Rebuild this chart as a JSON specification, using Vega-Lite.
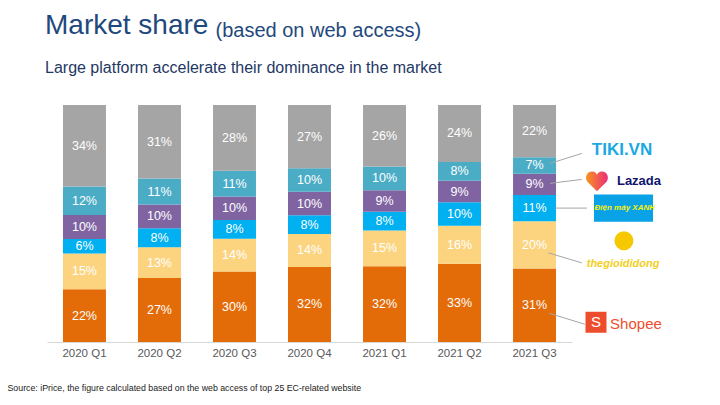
{
  "$schema": "https://vega.github.io/schema/vega-lite/v6.json",
  "autosize": "none",
  "width": 525,
  "height": 237,
  "padding": {"left": 47, "top": 105, "right": 148, "bottom": 63},
  "background": "white",
  "config": {"view": {"stroke": null}, "font": "Liberation Sans"},
  "title": {
    "text": "Market share",
    "subtitle": "Large platform accelerate their dominance in the market",
    "anchor": "start",
    "frame": "group",
    "font": "Liberation Sans",
    "fontSize": 28,
    "fontWeight": "normal",
    "color": "#1F497D",
    "subtitleFont": "Liberation Sans",
    "subtitleFontSize": 16,
    "subtitleColor": "#1F3864",
    "subtitlePadding": 20,
    "offset": -56,
    "dx": -2
  },
  "data": {
    "values": [
      {"quarter": "2020 Q1", "brand": "Shopee", "share": 22},
      {"quarter": "2020 Q1", "brand": "thegioididong", "share": 15},
      {"quarter": "2020 Q1", "brand": "Điện máy XANH", "share": 6},
      {"quarter": "2020 Q1", "brand": "Lazada", "share": 10},
      {"quarter": "2020 Q1", "brand": "TIKI.VN", "share": 12},
      {"quarter": "2020 Q1", "brand": "Others", "share": 34},
      {"quarter": "2020 Q2", "brand": "Shopee", "share": 27},
      {"quarter": "2020 Q2", "brand": "thegioididong", "share": 13},
      {"quarter": "2020 Q2", "brand": "Điện máy XANH", "share": 8},
      {"quarter": "2020 Q2", "brand": "Lazada", "share": 10},
      {"quarter": "2020 Q2", "brand": "TIKI.VN", "share": 11},
      {"quarter": "2020 Q2", "brand": "Others", "share": 31},
      {"quarter": "2020 Q3", "brand": "Shopee", "share": 30},
      {"quarter": "2020 Q3", "brand": "thegioididong", "share": 14},
      {"quarter": "2020 Q3", "brand": "Điện máy XANH", "share": 8},
      {"quarter": "2020 Q3", "brand": "Lazada", "share": 10},
      {"quarter": "2020 Q3", "brand": "TIKI.VN", "share": 11},
      {"quarter": "2020 Q3", "brand": "Others", "share": 28},
      {"quarter": "2020 Q4", "brand": "Shopee", "share": 32},
      {"quarter": "2020 Q4", "brand": "thegioididong", "share": 14},
      {"quarter": "2020 Q4", "brand": "Điện máy XANH", "share": 8},
      {"quarter": "2020 Q4", "brand": "Lazada", "share": 10},
      {"quarter": "2020 Q4", "brand": "TIKI.VN", "share": 10},
      {"quarter": "2020 Q4", "brand": "Others", "share": 27},
      {"quarter": "2021 Q1", "brand": "Shopee", "share": 32},
      {"quarter": "2021 Q1", "brand": "thegioididong", "share": 15},
      {"quarter": "2021 Q1", "brand": "Điện máy XANH", "share": 8},
      {"quarter": "2021 Q1", "brand": "Lazada", "share": 9},
      {"quarter": "2021 Q1", "brand": "TIKI.VN", "share": 10},
      {"quarter": "2021 Q1", "brand": "Others", "share": 26},
      {"quarter": "2021 Q2", "brand": "Shopee", "share": 33},
      {"quarter": "2021 Q2", "brand": "thegioididong", "share": 16},
      {"quarter": "2021 Q2", "brand": "Điện máy XANH", "share": 10},
      {"quarter": "2021 Q2", "brand": "Lazada", "share": 9},
      {"quarter": "2021 Q2", "brand": "TIKI.VN", "share": 8},
      {"quarter": "2021 Q2", "brand": "Others", "share": 24},
      {"quarter": "2021 Q3", "brand": "Shopee", "share": 31},
      {"quarter": "2021 Q3", "brand": "thegioididong", "share": 20},
      {"quarter": "2021 Q3", "brand": "Điện máy XANH", "share": 11},
      {"quarter": "2021 Q3", "brand": "Lazada", "share": 9},
      {"quarter": "2021 Q3", "brand": "TIKI.VN", "share": 7},
      {"quarter": "2021 Q3", "brand": "Others", "share": 22}
    ]
  },
  "transform": [
    {"calculate": "indexof(['Shopee','thegioididong','Điện máy XANH','Lazada','TIKI.VN','Others'], datum.brand)", "as": "rank"},
    {"stack": "share", "groupby": ["quarter"], "sort": [{"field": "rank", "order": "ascending"}], "as": ["y0", "y1"], "offset": "normalize"},
    {"calculate": "(datum.y0 + datum.y1) / 2", "as": "mid"},
    {"calculate": "datum.share + '%'", "as": "label"}
  ],
  "layer": [
    {
      "mark": {"type": "bar"},
      "encoding": {
        "x": {
          "field": "quarter", "type": "ordinal",
          "scale": {"paddingInner": 0.427, "paddingOuter": 0.213},
          "axis": {
            "title": "Source: iPrice, the figure calculated based on the web access of top 25 EC-related website",
            "labelAngle": 0, "labelFontSize": 11.5, "labelColor": "#595959", "labelFont": "Liberation Sans",
            "labelPadding": 5, "ticks": false, "domainColor": "#D9D9D9",
            "titleX": -40, "titleY": 48, "titleAlign": "left", "titleAnchor": "start", "titleBaseline": "alphabetic",
            "titleFontSize": 8.8, "titleFontWeight": "normal", "titleColor": "#1A1A1A", "titleFont": "Liberation Sans"
          }
        },
        "y": {
          "field": "y0", "type": "quantitative",
          "scale": {"domain": [0, 1], "nice": false},
          "axis": {
            "title": "(based on web access)", "labels": false, "ticks": false, "domain": false, "grid": false,
            "titleAngle": 0, "titleAlign": "left", "titleBaseline": "alphabetic", "titleX": 168, "titleY": -69,
            "titleFontSize": 20, "titleFontWeight": "normal", "titleColor": "#1F497D", "titleFont": "Liberation Sans"
          }
        },
        "y2": {"field": "y1"},
        "color": {
          "field": "brand", "type": "nominal",
          "scale": {
            "domain": ["Shopee", "thegioididong", "Điện máy XANH", "Lazada", "TIKI.VN", "Others"],
            "range": ["#E36C09", "#FCD480", "#00B0F0", "#8064A2", "#4BACC6", "#A5A5A5"]
          },
          "legend": null
        }
      }
    },
    {
      "mark": {"type": "text", "color": "white", "fontSize": 12.5, "font": "Liberation Sans"},
      "encoding": {
        "x": {"field": "quarter", "type": "ordinal"},
        "y": {"field": "mid", "type": "quantitative"},
        "text": {"field": "label"}
      }
    },
    {
      "transform": [{"filter": "datum.quarter == '2021 Q3' && datum.brand == 'TIKI.VN'"}],
      "mark": {"type": "rule", "color": "#A6A6A6", "strokeWidth": 1, "yOffset": -2, "y2Offset": -12},
      "encoding": {
        "x": {"field": "quarter", "type": "ordinal", "bandPosition": 0.86},
        "x2": {"field": "quarter", "bandPosition": 1.6},
        "y": {"field": "mid", "type": "quantitative"},
        "y2": {"field": "mid"}
      }
    },
    {
      "transform": [{"filter": "datum.quarter == '2021 Q3' && datum.brand == 'Lazada'"}],
      "mark": {"type": "rule", "color": "#A6A6A6", "strokeWidth": 1, "yOffset": -1, "y2Offset": -5},
      "encoding": {
        "x": {"field": "quarter", "type": "ordinal", "bandPosition": 0.86},
        "x2": {"field": "quarter", "bandPosition": 1.6},
        "y": {"field": "mid", "type": "quantitative"},
        "y2": {"field": "mid"}
      }
    },
    {
      "transform": [{"filter": "datum.quarter == '2021 Q3' && datum.brand == 'Điện máy XANH'"}],
      "mark": {"type": "rule", "color": "#A6A6A6", "strokeWidth": 1},
      "encoding": {
        "x": {"field": "quarter", "type": "ordinal", "bandPosition": 0.98},
        "x2": {"field": "quarter", "bandPosition": 1.72},
        "y": {"field": "mid", "type": "quantitative"},
        "y2": {"field": "mid"}
      }
    },
    {
      "transform": [{"filter": "datum.quarter == '2021 Q3' && datum.brand == 'thegioididong'"}],
      "mark": {"type": "rule", "color": "#A6A6A6", "strokeWidth": 1, "yOffset": 8, "y2Offset": 18},
      "encoding": {
        "x": {"field": "quarter", "type": "ordinal", "bandPosition": 0.82},
        "x2": {"field": "quarter", "bandPosition": 1.6},
        "y": {"field": "mid", "type": "quantitative"},
        "y2": {"field": "mid"}
      }
    },
    {
      "transform": [{"filter": "datum.quarter == '2021 Q3' && datum.brand == 'Shopee'"}],
      "mark": {"type": "rule", "color": "#A6A6A6", "strokeWidth": 1, "yOffset": 8, "y2Offset": 19},
      "encoding": {
        "x": {"field": "quarter", "type": "ordinal", "bandPosition": 0.84},
        "x2": {"field": "quarter", "bandPosition": 1.67},
        "y": {"field": "mid", "type": "quantitative"},
        "y2": {"field": "mid"}
      }
    },
    {
      "transform": [{"filter": "datum.quarter == '2021 Q3' && datum.brand == 'TIKI.VN'"}],
      "mark": {"type": "text", "color": "#1BA8E3", "fontSize": 17, "fontWeight": "bold", "font": "Liberation Sans", "dy": -15},
      "encoding": {
        "x": {"field": "quarter", "type": "ordinal", "bandPosition": 2.535},
        "y": {"field": "mid", "type": "quantitative"},
        "text": {"field": "brand"}
      }
    },
    {
      "transform": [{"filter": "datum.quarter == '2021 Q3' && datum.brand == 'Lazada'"}],
      "mark": {
        "type": "point", "filled": true, "size": 484, "yOffset": -3, "opacity": 1,
        "shape": "M0,0.9 L-0.85,0.05 C-1.15,-0.3 -0.95,-0.9 -0.45,-0.9 C-0.2,-0.9 0,-0.72 0,-0.55 C0,-0.72 0.2,-0.9 0.45,-0.9 C0.95,-0.9 1.15,-0.3 0.85,0.05 Z",
        "color": {"gradient": "linear", "x1": 0, "x2": 1, "y1": 0, "y2": 0, "stops": [{"offset": 0, "color": "#F7941D"}, {"offset": 1, "color": "#EC2C7B"}]}
      },
      "encoding": {
        "x": {"field": "quarter", "type": "ordinal", "bandPosition": 1.953},
        "y": {"field": "mid", "type": "quantitative"}
      }
    },
    {
      "transform": [{"filter": "datum.quarter == '2021 Q3' && datum.brand == 'Lazada'"}],
      "mark": {"type": "text", "color": "#0F146D", "fontSize": 13, "fontWeight": "bold", "font": "Liberation Sans", "dy": -3},
      "encoding": {
        "x": {"field": "quarter", "type": "ordinal", "bandPosition": 2.93},
        "y": {"field": "mid", "type": "quantitative"},
        "text": {"field": "brand"}
      }
    },
    {
      "transform": [{"filter": "datum.quarter == '2021 Q3' && datum.brand == 'Điện máy XANH'"}],
      "mark": {"type": "point", "filled": true, "size": 3481, "opacity": 1, "color": "#0AA2E6", "shape": "M-1,-0.46 L1,-0.46 L1,0.46 L-1,0.46 Z"},
      "encoding": {
        "x": {"field": "quarter", "type": "ordinal", "bandPosition": 2.57},
        "y": {"field": "mid", "type": "quantitative"}
      }
    },
    {
      "transform": [{"filter": "datum.quarter == '2021 Q3' && datum.brand == 'Điện máy XANH'"}],
      "mark": {"type": "text", "color": "#FFF200", "fontSize": 8, "fontWeight": "bold", "fontStyle": "italic", "font": "Liberation Sans"},
      "encoding": {
        "x": {"field": "quarter", "type": "ordinal", "bandPosition": 2.6},
        "y": {"field": "mid", "type": "quantitative"},
        "text": {"field": "brand"}
      }
    },
    {
      "transform": [{"filter": "datum.quarter == '2021 Q3' && datum.brand == 'thegioididong'"}],
      "mark": {"type": "point", "filled": true, "size": 360, "opacity": 1, "color": "#F5C800", "shape": "circle", "yOffset": -4},
      "encoding": {
        "x": {"field": "quarter", "type": "ordinal", "bandPosition": 2.58},
        "y": {"field": "mid", "type": "quantitative"}
      }
    },
    {
      "transform": [{"filter": "datum.quarter == '2021 Q3' && datum.brand == 'thegioididong'"}],
      "mark": {"type": "text", "color": "#F2CF1D", "fontSize": 11, "fontWeight": "bold", "fontStyle": "italic", "font": "Liberation Sans", "dy": 19},
      "encoding": {
        "x": {"field": "quarter", "type": "ordinal", "bandPosition": 2.56},
        "y": {"field": "mid", "type": "quantitative"},
        "text": {"field": "brand"}
      }
    },
    {
      "transform": [{"filter": "datum.quarter == '2021 Q3' && datum.brand == 'Shopee'"}],
      "mark": {"type": "point", "filled": true, "size": 441, "opacity": 1, "color": "#EE4D2D", "shape": "square", "yOffset": 17},
      "encoding": {
        "x": {"field": "quarter", "type": "ordinal", "bandPosition": 1.93},
        "y": {"field": "mid", "type": "quantitative"}
      }
    },
    {
      "transform": [{"filter": "datum.quarter == '2021 Q3' && datum.brand == 'Shopee'"}],
      "mark": {"type": "text", "color": "white", "fontSize": 15, "font": "Liberation Sans", "dy": 17, "text": "S"},
      "encoding": {
        "x": {"field": "quarter", "type": "ordinal", "bandPosition": 1.93},
        "y": {"field": "mid", "type": "quantitative"}
      }
    },
    {
      "transform": [{"filter": "datum.quarter == '2021 Q3' && datum.brand == 'Shopee'"}],
      "mark": {"type": "text", "color": "#EE4D2D", "fontSize": 15, "font": "Liberation Sans", "dy": 19},
      "encoding": {
        "x": {"field": "quarter", "type": "ordinal", "bandPosition": 2.86},
        "y": {"field": "mid", "type": "quantitative"},
        "text": {"field": "brand"}
      }
    }
  ]
}
